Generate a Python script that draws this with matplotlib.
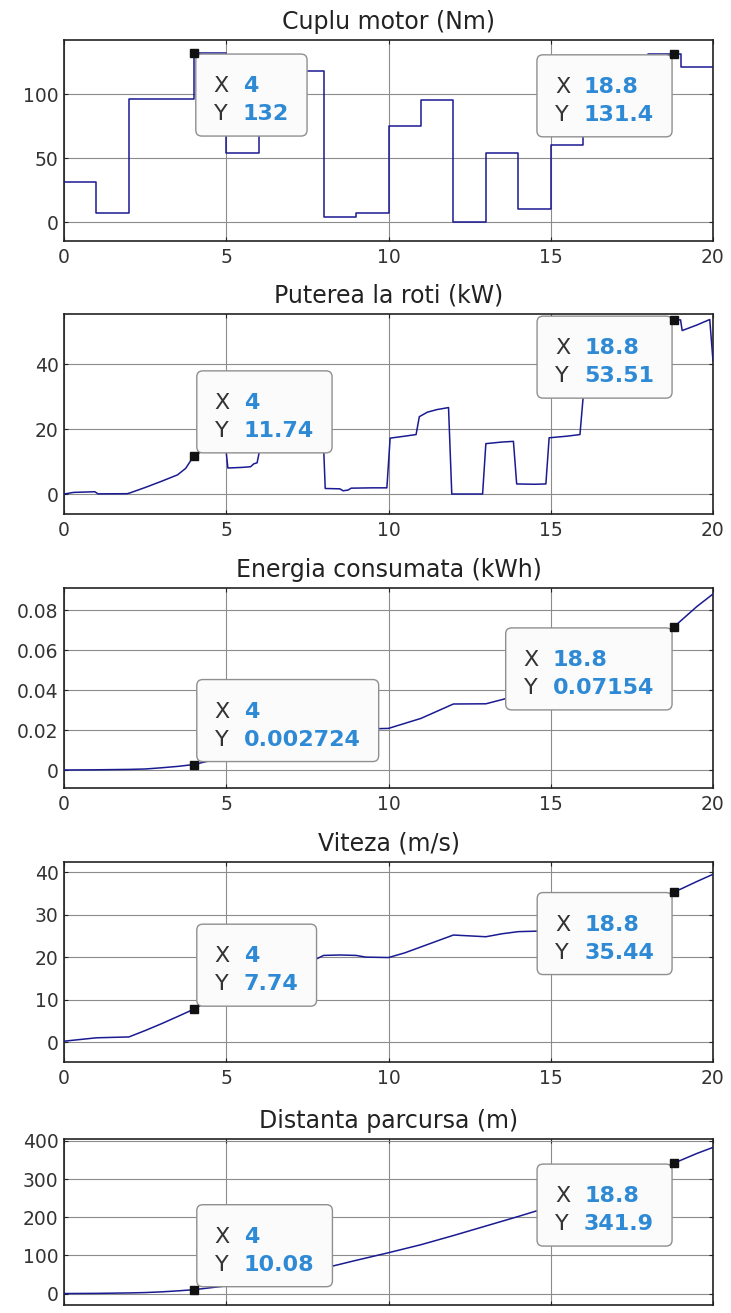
import matplotlib
matplotlib.use("Agg")
import matplotlib.pyplot as plt
from matplotlib.patches import FancyBboxPatch
from matplotlib.ticker import FormatStrFormatter
from matplotlib.transforms import IdentityTransform

plt.rcParams['font.family'] = ['DejaVu Sans']

# ---- data ----
t_cuplu = list(range(21))
cuplu = [31, 7, 96, 96, 132, 54, 90, 118, 4, 7, 75, 95, 0, 54, 10, 60, 92, 107, 131.4, 121]

t_putere = [0.0, 0.3, 0.95, 1.05, 1.95, 2.05, 2.5, 3.0, 3.5, 3.75,
            4.0, 4.5, 4.95, 5.05, 5.5, 5.75, 5.85, 5.95, 6.05, 6.5,
            6.95, 7.05, 7.5, 7.95, 8.05, 8.5, 8.6, 8.75, 8.85, 9.5,
            9.95, 10.05, 10.5, 10.85, 10.95, 11.2, 11.5, 11.85, 11.95, 12.9,
            13.0, 13.5, 13.85, 13.95, 14.5, 14.85, 14.95, 15.5, 15.9, 16.0,
            16.5, 16.95, 17.05, 17.5, 17.95, 18.05, 18.8, 19.0, 19.05, 19.5,
            19.9, 20.0]
putere = [0.0, 0.5, 0.7, 0.05, 0.1, 0.4, 2.0, 3.9, 5.9, 7.9,
          11.74, 14.5, 17.5, 8.0, 8.2, 8.4, 9.3, 9.6, 14.5, 15.8,
          17.0, 23.5, 25.5, 27.5, 1.7, 1.6, 1.0, 1.2, 1.8, 1.9,
          1.9, 17.2, 17.8, 18.3, 23.8, 25.2, 26.0, 26.6, 0.0, 0.0,
          15.5, 16.0, 16.2, 3.1, 3.0, 3.1, 17.3, 17.8, 18.3, 30.0,
          31.0, 32.0, 39.0, 40.5, 42.0, 52.0, 53.51, 53.6, 50.3, 52.0,
          53.7, 40.9]

t_energie = [0, 1, 2, 2.5, 3, 3.5, 4, 5, 6, 7, 8, 9, 10, 10.5, 11, 11.5, 12, 13,
             13.5, 14, 15, 16, 17, 18, 18.8, 19, 19.5, 20]
energie = [0, 0.0001, 0.0003, 0.0005, 0.0011, 0.0018, 0.002724, 0.0066, 0.0089,
           0.0130, 0.0199, 0.0204, 0.0208, 0.0233, 0.0258, 0.0294, 0.0330, 0.0331,
           0.0352, 0.0375, 0.0383, 0.0432, 0.0505, 0.0600, 0.07154, 0.0745, 0.0817,
           0.0880]

t_viteza = [0, 0.5, 1, 1.5, 2, 2.5, 3, 3.5, 4, 5, 6, 7, 8, 8.5, 9, 9.3, 10, 10.5,
            11, 11.5, 12, 12.5, 13, 13.5, 14, 14.5, 15, 16, 17, 18, 18.8, 19, 19.5, 20]
viteza = [0.2, 0.6, 1.0, 1.1, 1.2, 2.7, 4.3, 6.0, 7.74, 12.0, 13.9, 16.6, 20.4,
          20.5, 20.4, 20.0, 19.9, 21.0, 22.4, 23.8, 25.2, 25.0, 24.8, 25.5, 26.0,
          26.1, 26.2, 27.3, 29.8, 32.6, 35.44, 36.0, 37.8, 39.5]

t_dist = [0, 1, 2, 2.5, 3, 3.5, 4, 5, 6, 7, 8, 8.3, 9, 10, 11, 12, 13, 14, 15,
          16, 17, 18, 18.8, 19, 19.5, 20]
distanta = [0, 0.5, 1.6, 2.6, 4.4, 7.0, 10.08, 20, 33, 48, 66.5, 72.5, 87, 107,
            128, 152, 177, 202, 228, 255, 283, 314, 341.9, 349, 367, 383]

titles = ['Cuplu motor (Nm)', 'Puterea la roti (kW)', 'Energia consumata (kWh)',
          'Viteza (m/s)', 'Distanta parcursa (m)']
tip_x = [4, 18.8]
tip_y = [[132, 131.4], [11.74, 53.51], [0.002724, 0.07154], [7.74, 35.44], [10.08, 341.9]]
x_ticks = [0, 5, 10, 15, 20]
y_ticks = [[0, 50, 100], [0, 20, 40], [0, 0.02, 0.04, 0.06, 0.08],
           [0, 10, 20, 30, 40], [0, 100, 200, 300, 400]]

# ---- layout ----
W, H = 731, 1313
fig = plt.figure(figsize=(W / 100, H / 100), dpi=100, facecolor='white')

ax_px = [(40, 241), (314, 514), (588, 788), (862, 1062), (1139, 1305)]
ylims = [(-14.8, 142.2), (-6.15, 55.4), (-0.009, 0.091), (-4.7, 42.4), (-30, 405)]
tip_modes = [('br', 'bl'), ('ar', 'bl'), ('ar', 'bl'), ('ar', 'bl'), ('ar', 'bl')]
tip_dy = [(0, 0), (0, 5), (0, 0), (0, 0), (0, 0)]

LINE = '#1a1a92'
TXT = '#333333'
VAL = '#2f8ad6'

series = [(t_cuplu, cuplu + [cuplu[-1]]), (t_putere, putere), (t_energie, energie),
          (t_viteza, viteza), (t_dist, distanta)]

renderer = fig.canvas.get_renderer()


def add_tip(ax, x, y, mode, dy):
    ax.plot([x], [y], 's', color='#111111', ms=6, zorder=9, clip_on=False)
    mx, my = ax.transData.transform((x, y))
    tr = IdentityTransform()
    kw = dict(transform=tr, fontsize=16, zorder=8, clip_on=False, va='baseline', ha='left')
    labs = [ax.text(0, 0, 'X', color=TXT, **kw), ax.text(0, 0, 'Y', color=TXT, **kw)]
    vals = [ax.text(0, 0, f'{x:.4g}', color=VAL, fontweight='bold', **kw),
            ax.text(0, 0, f'{y:.4g}', color=VAL, fontweight='bold', **kw)]
    vw = max(t.get_window_extent(renderer).width for t in vals)
    bw, bh = 47 + vw + 18, 82
    if mode == 'br':
        x0, top = mx + 2, my - 1
    elif mode == 'ar':
        x0, top = mx + 3, my + 3 + bh
    else:
        x0, top = mx - 2 - bw, my - 1
    top += dy
    box = FancyBboxPatch((x0, top - bh), bw, bh, boxstyle='round,pad=0,rounding_size=6',
                         transform=tr, facecolor='#fbfbfb', edgecolor='#8f8f8f',
                         linewidth=1.0, zorder=7, clip_on=False)
    ax.add_patch(box)
    for i, (lt, vt) in enumerate(zip(labs, vals)):
        base = top - 38 - 28 * i
        lt.set_position((x0 + 18, base))
        vt.set_position((x0 + 47, base))


for i in range(5):
    top_px, bot_px = ax_px[i]
    ax = fig.add_axes([64 / W, 1 - bot_px / H, 649 / W, (bot_px - top_px) / H])
    tx, ty = series[i]
    if i == 0:
        ax.step(tx, ty, where='post', color=LINE, lw=1.1, zorder=3)
    else:
        ax.plot(tx, ty, color=LINE, lw=1.1, zorder=3)
    ax.set_xlim(0, 20)
    ax.set_ylim(*ylims[i])
    ax.set_xticks(x_ticks)
    ax.set_yticks(y_ticks[i])
    ax.yaxis.set_major_formatter(FormatStrFormatter('%g'))
    ax.grid(True, color='#8c8c8c', lw=0.8)
    ax.set_axisbelow(True)
    ax.tick_params(direction='in', length=3, width=0.8, top=True, right=True,
                   labelsize=13.5, labelcolor=TXT, color='#222222')
    ax.tick_params(axis='x', pad=5)
    ax.tick_params(axis='y', pad=4)
    if i == 4:
        ax.tick_params(axis='x', labelbottom=False)
    for s in ax.spines.values():
        s.set_linewidth(1.2)
        s.set_color('#222222')
    ax.set_title(titles[i], fontsize=17, color='#222222', pad=8)
    for k in range(2):
        add_tip(ax, tip_x[k], tip_y[i][k], tip_modes[i][k], tip_dy[i][k])

fig.savefig('out.png', dpi=100, facecolor='white')
